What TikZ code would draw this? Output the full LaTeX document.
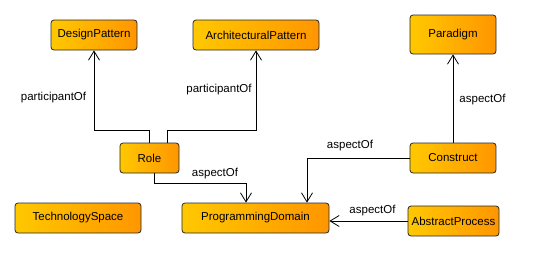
\documentclass[tikz,border=0pt]{standalone}
\usepackage{fontspec}
\setmainfont{Liberation Sans}
\usetikzlibrary{arrows.meta}
\definecolor{boxleft}{RGB}{255,200,0}
\definecolor{boxmid}{RGB}{255,245,0}
\definecolor{boxright}{RGB}{255,150,0}

\begin{document}
\begin{tikzpicture}[x=1pt,y=-1pt,
	concept/.style={draw=black!85,line width=0.8pt,rounded corners=3pt,left color=boxleft,middle color=boxmid,right color=boxright,inner sep=0,minimum height=30pt,font=\fontsize{11.5}{13}\selectfont},
	rel/.style={line width=0.8pt,-{Straight Barb[length=9pt,width=11pt]}},
	lbl/.style={inner sep=0,font=\fontsize{11.5}{13}\selectfont}]
	\useasboundingbox (0,0) rectangle (543,252);
	\node[concept,minimum width=86pt] (designpattern) at (94,35) {DesignPattern};
	\node[concept,minimum width=126pt] (archpattern) at (256,35) {ArchitecturalPattern};
	\node[concept,minimum width=86pt,minimum height=39pt] (paradigm) at (453,34.5) {Paradigm};
	\node[concept,minimum width=59pt] (role) at (149.5,158) {Role};
	\node[concept,minimum width=86pt] (construct) at (453,158) {Construct};
	\node[concept,minimum width=126pt] (techspace) at (78,218) {TechnologySpace};
	\node[concept,minimum width=147pt] (progdomain) at (255.5,218) {ProgrammingDomain};
	\node[concept,minimum width=91pt] (absprocess) at (453.5,221) {AbstractProcess};
	\draw[rel] (role.north) -- ++(0,-12) -| (designpattern.south);
	\draw[rel] ([xshift=17.5pt]role.north) -- ++(0,-12) -| (archpattern.south);
	\draw[rel] (construct.north) -- (paradigm.south);
	\draw[rel] (construct.west) -| ([xshift=51.5pt]progdomain.north);
	\draw[rel] ([xshift=4.5pt]role.south) -- ++(0,10) -| ([xshift=-9.5pt]progdomain.north);
	\draw[rel] (absprocess.west) -- (absprocess.west -| progdomain.east);
	\node[lbl] (dplabel) at (53.5,98) {participantOf};
	\node[lbl] (aplabel) at (219,90) {participantOf};
	\node[lbl] (parlabel) at (482.5,100) {aspectOf};
	\node[lbl] (conlabel) at (350,146) {aspectOf};
	\node[lbl] (rolelabel) at (215,174) {aspectOf};
	\node[lbl] (abslabel) at (372.5,211) {aspectOf};
\end{tikzpicture}
\end{document}
